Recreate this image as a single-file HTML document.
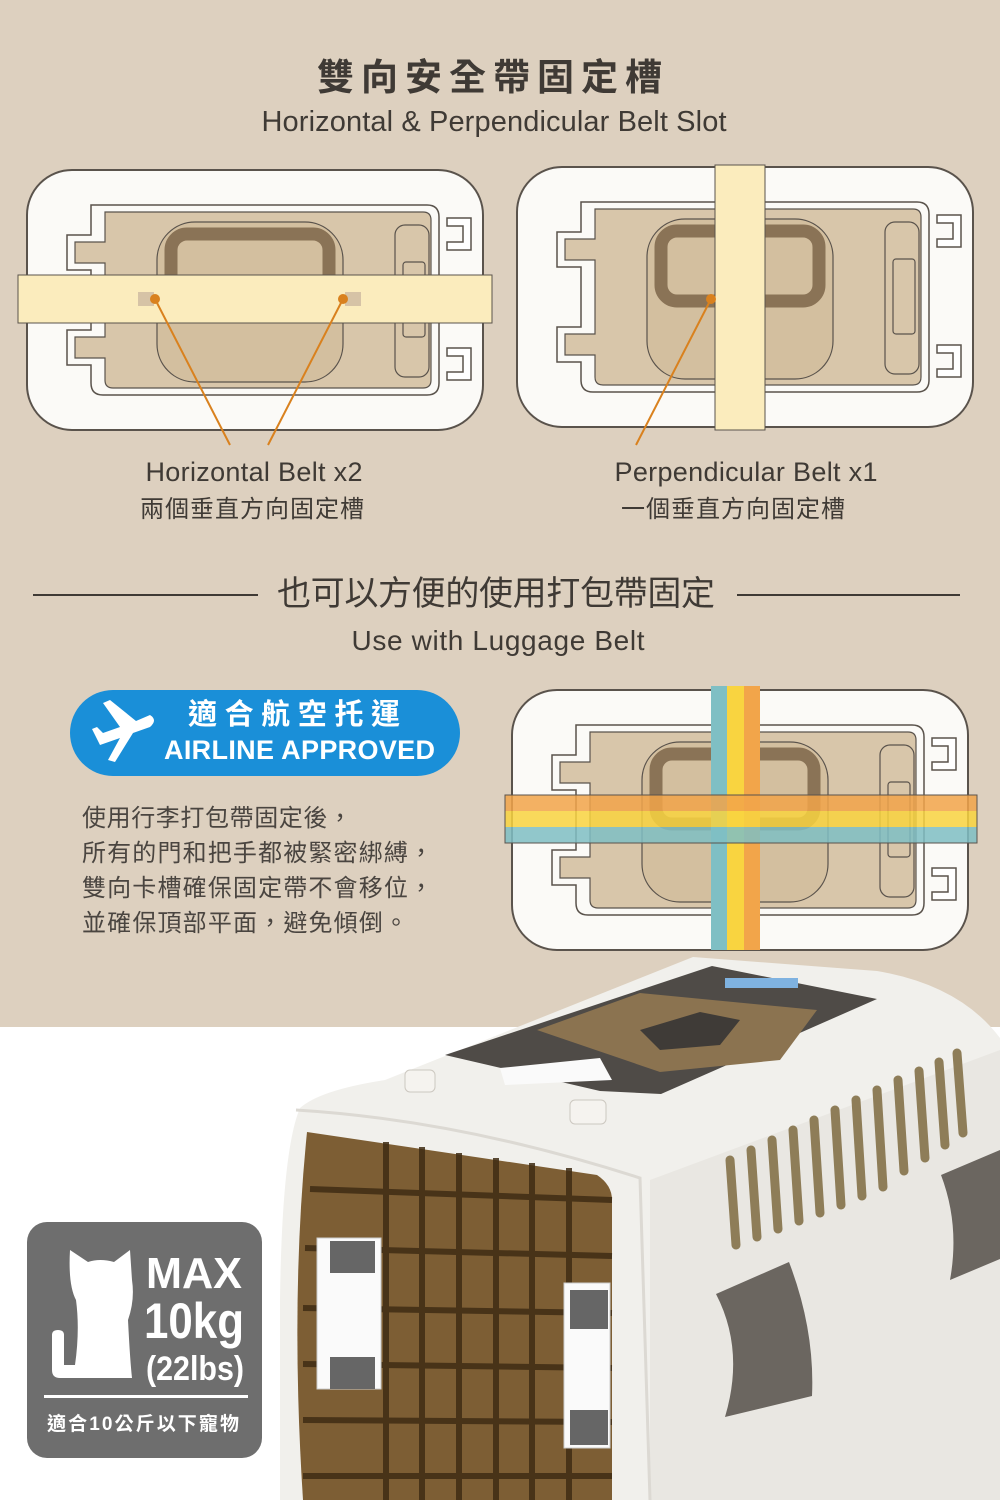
<!DOCTYPE html>
<html><head><meta charset="utf-8"><style>
body{margin:0;width:1000px;height:1500px;overflow:hidden;background:#fff;font-family:"Liberation Sans","Noto Sans CJK TC",sans-serif}
</style></head><body>
<svg width="1000" height="1500" viewBox="0 0 1000 1500" xmlns="http://www.w3.org/2000/svg" font-family="Liberation Sans, Noto Sans CJK TC, sans-serif">
<defs>
<g id="top">
  <rect x="0" y="0" width="456" height="260" rx="45" fill="#fbfaf7" stroke="#5a534c" stroke-width="2"/>
  <path d="M64 35 H400 Q412 35 412 47 V213 Q412 225 400 225 H76 Q64 225 64 213 V195 H40 V160 H64 V100 H40 V65 H64 Z" fill="#fbfaf7" stroke="#5a534c" stroke-width="1.5"/>
  <path d="M78 42 H396 Q404 42 404 50 V210 Q404 218 396 218 H86 Q78 218 78 210 V188 H48 V167 H78 V93 H48 V72 H78 Z" fill="#d8c6aa" stroke="#5a534c" stroke-width="1.2"/>
  <rect x="130" y="52" width="186" height="160" rx="38" fill="#d3bf9f" stroke="#5a534c" stroke-width="1.2"/>
  <rect x="144" y="64" width="158" height="70" rx="16" fill="none" stroke="#8a7356" stroke-width="13"/>
  <rect x="368" y="55" width="34" height="152" rx="10" fill="none" stroke="#5a534c" stroke-width="1.2"/>
  <rect x="376" y="92" width="22" height="75" rx="3" fill="none" stroke="#5a534c" stroke-width="1.2"/>
  <path d="M420 48 h24 v32 h-24 v-8 h16 v-16 h-16z M420 178 h24 v32 h-24 v-8 h16 v-16 h-16z" fill="#fff" stroke="#5a534c" stroke-width="1.5"/>
</g>
</defs>
<rect width="1000" height="1027" fill="#ddd0bf"/>
<text x="493" y="90" text-anchor="middle" font-size="37" font-weight="bold" fill="#3f3a35" letter-spacing="7">雙向安全帶固定槽</text>
<text x="494" y="131" text-anchor="middle" font-size="29" fill="#3f3a35" textLength="465">Horizontal &amp; Perpendicular Belt Slot</text>

<!-- diagram 1 -->
<use href="#top" x="27" y="170"/>
<rect x="18" y="275" width="474" height="48" fill="#fbecbd" stroke="#5a534c" stroke-width="1"/>
<rect x="138" y="292" width="16" height="14" fill="#d6c3a6"/><rect x="345" y="292" width="16" height="14" fill="#d6c3a6"/>
<line x1="155" y1="299" x2="230" y2="445" stroke="#d9811e" stroke-width="2"/>
<line x1="343" y1="299" x2="268" y2="445" stroke="#d9811e" stroke-width="2"/>
<circle cx="155" cy="299" r="5" fill="#d9811e"/><circle cx="343" cy="299" r="5" fill="#d9811e"/>
<text x="254" y="481" text-anchor="middle" font-size="27" fill="#3f3a35" textLength="217">Horizontal Belt x2</text>
<text x="252" y="517" text-anchor="middle" font-size="24" fill="#3f3a35" textLength="224">兩個垂直方向固定槽</text>

<!-- diagram 2 -->
<use href="#top" x="517" y="167"/>
<rect x="715" y="165" width="50" height="265" fill="#fbecbd" stroke="#5a534c" stroke-width="1"/>
<line x1="711" y1="299" x2="636" y2="445" stroke="#d9811e" stroke-width="2"/>
<circle cx="711" cy="299" r="5" fill="#d9811e"/>
<text x="746" y="481" text-anchor="middle" font-size="27" fill="#3f3a35" textLength="263">Perpendicular Belt x1</text>
<text x="733" y="517" text-anchor="middle" font-size="24" fill="#3f3a35" textLength="224">一個垂直方向固定槽</text>

<!-- section 2 -->
<line x1="33" y1="595" x2="258" y2="595" stroke="#3f3a35" stroke-width="2"/>
<line x1="737" y1="595" x2="960" y2="595" stroke="#3f3a35" stroke-width="2"/>
<text x="496" y="605" text-anchor="middle" font-size="34" fill="#3f3a35" textLength="438">也可以方便的使用打包帶固定</text>
<text x="498" y="650" text-anchor="middle" font-size="28" fill="#3f3a35" textLength="293">Use with Luggage Belt</text>

<rect x="70" y="690" width="390" height="86" rx="43" fill="#1a8fd8"/>
<text x="188" y="724" font-size="29" font-weight="bold" fill="#fff" textLength="212">適合航空托運</text>
<text x="164" y="759" font-size="27" font-weight="bold" fill="#fff" textLength="271">AIRLINE APPROVED</text>
<path d="M100 745 L120 738 L108 760 L115 762 L133 733 L150 727 Q158 720 150 715 L136 721 L110 700 L103 703 L120 727 L103 733 L97 727 L92 729 Z" fill="#fff"/>

<g font-size="24" fill="#4a4540">
<text x="82" y="826" textLength="270">使用行李打包帶固定後，</text>
<text x="82" y="861" textLength="351">所有的門和把手都被緊密綁縛，</text>
<text x="82" y="896" textLength="351">雙向卡槽確保固定帶不會移位，</text>
<text x="82" y="931" textLength="326">並確保頂部平面，避免傾倒。</text>
</g>

<!-- diagram 3 -->
<use href="#top" x="512" y="690"/>
<rect x="711" y="686" width="16" height="264" fill="#7fbfc4"/>
<rect x="727" y="686" width="17" height="264" fill="#f9d440"/>
<rect x="744" y="686" width="16" height="264" fill="#f2a54a"/>
<g opacity="0.85">
<rect x="505" y="795" width="472" height="16" fill="#f2a54a"/>
<rect x="505" y="811" width="472" height="16" fill="#f9d440"/>
<rect x="505" y="827" width="472" height="16" fill="#7fbfc4"/>
</g>
<rect x="505" y="795" width="472" height="48" fill="none" stroke="#5a534c" stroke-width="1"/>

<!-- bottom photo area -->
<rect x="0" y="1027" width="1000" height="473" fill="#fff"/>
<!-- body -->
<path d="M280 1500 L280 1300 Q282 1150 300 1108 Q320 1090 385 1080 L693 957 L877 971 Q960 985 1000 1038 L1000 1500 Z" fill="#f1f0ec"/>
<path d="M650 1180 L1000 1050 L1000 1500 L650 1500 Z" fill="#e9e7e2"/>
<path d="M296 1110 Q460 1120 640 1178 L650 1500" fill="none" stroke="#dcd9d3" stroke-width="3"/>
<!-- lid -->
<path d="M445 1055 L712 966 L877 999 L661 1094 L600 1091 Z" fill="#4f4b47"/>
<path d="M537 1030 L640 993 L817 1010 L780 1060 L660 1072 Z" fill="#8b7350"/>
<path d="M640 1030 L700 1012 L740 1020 L720 1045 L660 1050 Z" fill="#3f3b37"/>
<rect x="725" y="978" width="73" height="10" fill="#7fb2e0"/>
<path d="M500 1068 L600 1058 L612 1080 L505 1085 Z" fill="#fafafa"/>
<rect x="405" y="1070" width="30" height="22" rx="5" fill="#f5f3ef" stroke="#ccc8c0"/>
<rect x="570" y="1100" width="36" height="24" rx="5" fill="#f5f3ef" stroke="#ccc8c0"/>
<!-- door -->
<path d="M307 1132 L597 1175 Q612 1185 612 1200 L612 1500 L303 1500 Q290 1300 307 1132 Z" fill="#7d5e34"/>
<g stroke="#3f2c14" stroke-width="6" opacity="0.85">
<line x1="310" y1="1189" x2="612" y2="1200"/><line x1="305" y1="1248" x2="612" y2="1256"/>
<line x1="303" y1="1308" x2="612" y2="1313"/><line x1="303" y1="1364" x2="612" y2="1368"/>
<line x1="303" y1="1420" x2="612" y2="1422"/><line x1="303" y1="1476" x2="612" y2="1476"/>
<line x1="386" y1="1142" x2="386" y2="1500"/><line x1="422" y1="1147" x2="422" y2="1500"/>
<line x1="459" y1="1153" x2="459" y2="1500"/><line x1="496" y1="1158" x2="496" y2="1500"/>
<line x1="532" y1="1163" x2="532" y2="1500"/><line x1="569" y1="1168" x2="569" y2="1500"/>
</g>
<rect x="317" y="1238" width="64" height="151" fill="#fafafa" stroke="#ccc"/>
<rect x="330" y="1241" width="45" height="32" fill="#666"/><rect x="330" y="1357" width="45" height="32" fill="#666"/>
<rect x="564" y="1283" width="46" height="165" fill="#fafafa" stroke="#ccc"/>
<rect x="570" y="1290" width="38" height="39" fill="#666"/><rect x="570" y="1410" width="38" height="35" fill="#666"/>
<!-- vents -->
<g stroke="#8e7d58" stroke-width="9" stroke-linecap="round">
<line x1="730" y1="1160" x2="736" y2="1245"/><line x1="751" y1="1150" x2="757" y2="1237"/>
<line x1="772" y1="1140" x2="778" y2="1229"/><line x1="793" y1="1130" x2="799" y2="1221"/>
<line x1="814" y1="1120" x2="820" y2="1213"/><line x1="835" y1="1110" x2="841" y2="1205"/>
<line x1="856" y1="1100" x2="862" y2="1196"/><line x1="877" y1="1090" x2="883" y2="1187"/>
<line x1="898" y1="1080" x2="904" y2="1171"/><line x1="919" y1="1071" x2="925" y2="1158"/>
<line x1="939" y1="1062" x2="945" y2="1145"/><line x1="957" y1="1053" x2="963" y2="1133"/>
</g>
<path d="M716 1294 L789 1262 Q815 1330 812 1396 L725 1417 Q745 1350 716 1294 Z" fill="#6b6660"/>
<path d="M941 1175 L1000 1150 L1000 1259 L950 1280 Q960 1225 941 1175 Z" fill="#6b6660"/>

<!-- max badge -->
<rect x="27" y="1222" width="235" height="236" rx="20" fill="#6e6e6e"/>
<path d="M70 1250 L88 1262 Q100 1258 114 1262 L130 1250 L132 1280 Q135 1300 128 1320 Q130 1360 132 1378 L60 1378 Q52 1378 52 1370 L52 1335 Q52 1330 58 1330 Q64 1330 64 1335 L64 1365 L75 1365 Q80 1330 76 1300 Q68 1285 70 1250 Z" fill="#fff"/>
<g fill="#fff" font-weight="bold" font-family="Liberation Sans Narrow, Liberation Sans, sans-serif">
<text x="146" y="1288" font-size="44" textLength="96" lengthAdjust="spacingAndGlyphs">MAX</text>
<text x="144" y="1338" font-size="50" textLength="100" lengthAdjust="spacingAndGlyphs">10kg</text>
<text x="146" y="1380" font-size="34" textLength="98" lengthAdjust="spacingAndGlyphs">(22lbs)</text>
</g>
<rect x="44" y="1395" width="204" height="3" fill="#fff"/>
<text x="47" y="1430" font-size="19" font-weight="bold" fill="#fff" textLength="192">適合10公斤以下寵物</text>
</svg>
</body></html>
